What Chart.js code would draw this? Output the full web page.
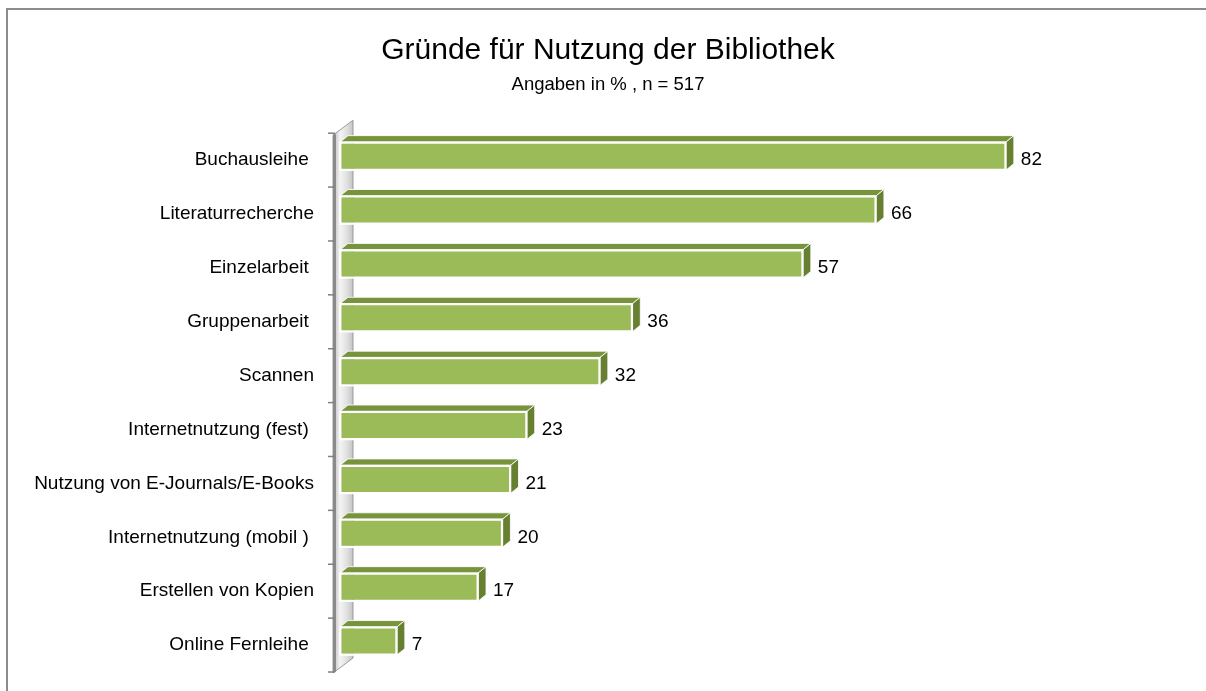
<!DOCTYPE html>
<html>
<head>
<meta charset="utf-8">
<script src="https://cdn.jsdelivr.net/npm/chart.js@4.4.1/dist/chart.umd.min.js"></script>
<style>
html,body{margin:0;padding:0;background:#fff;}
#wrap{width:1206px;height:691px;position:relative;}
</style>
</head>
<body>
<div id="wrap"><canvas id="c" width="1206" height="691"></canvas></div>
<script>
const categories = [
  'Buchausleihe ',
  'Literaturrecherche',
  'Einzelarbeit ',
  'Gruppenarbeit ',
  'Scannen',
  'Internetnutzung (fest) ',
  'Nutzung von E-Journals/E-Books',
  'Internetnutzung (mobil ) ',
  'Erstellen von Kopien',
  'Online Fernleihe '
];
const values = [82, 66, 57, 36, 32, 23, 21, 20, 17, 7];
const titleText = 'Gründe für Nutzung der Bibliothek';
const subtitleText = 'Angaben in % , n = 517';

const FONT = "'Liberation Sans', Arial, sans-serif";
const DX = 8, DY = 6.5, SHIFT = 4;

const frame = {
  id: 'frame',
  beforeDraw(chart) {
    const ctx = chart.ctx;
    ctx.save();
    ctx.strokeStyle = '#8c8c8c';
    ctx.lineWidth = 2;
    ctx.beginPath();
    ctx.moveTo(7, 700);
    ctx.lineTo(7, 9);
    ctx.lineTo(1210, 9);
    ctx.stroke();
    ctx.restore();
  }
};

const bars3d = {
  id: 'bars3d',
  beforeDatasetsDraw(chart) {
    const ctx = chart.ctx;
    const a = chart.chartArea;
    const L = a.left, T = a.top, B = a.bottom;
    ctx.save();
    const g = ctx.createLinearGradient(L - 7, 0, L + 13, 0);
    g.addColorStop(0, '#b8b8b8');
    g.addColorStop(0.35, '#f4f4f4');
    g.addColorStop(0.7, '#e0e0e0');
    g.addColorStop(1, '#c4c4c4');
    ctx.fillStyle = g;
    ctx.beginPath();
    ctx.moveTo(L - 7, T + 2);
    ctx.lineTo(L + 13, T - 13);
    ctx.lineTo(L + 13, B - 14);
    ctx.lineTo(L - 7, B + 1);
    ctx.closePath();
    ctx.fill();
    ctx.strokeStyle = '#9a9a9a';
    ctx.lineWidth = 1;
    ctx.stroke();
    ctx.strokeStyle = '#8a8a8a';
    ctx.lineWidth = 3;
    ctx.beginPath();
    ctx.moveTo(L - 5.5, T + 1);
    ctx.lineTo(L - 5.5, B);
    ctx.stroke();
    const n = categories.length;
    const band = (B - T) / n;
    ctx.strokeStyle = '#808080';
    ctx.lineWidth = 1.5;
    for (let i = 0; i <= n; i++) {
      const y = T + i * band;
      ctx.beginPath();
      ctx.moveTo(L - 12, y);
      ctx.lineTo(L - 5, y);
      ctx.stroke();
    }
    ctx.restore();
  },
  beforeDatasetDraw(chart) {
    chart.ctx.save();
    chart.ctx.translate(0, -SHIFT);
  },
  afterDatasetDraw(chart, args) {
    const ctx = chart.ctx;
    const meta = chart.getDatasetMeta(args.index);
    meta.data.forEach(el => {
      const p = el.getProps(['x', 'y', 'base', 'height'], true);
      const l = Math.min(p.base, p.x), r = Math.max(p.base, p.x);
      const t = p.y - p.height / 2, b = p.y + p.height / 2;
      ctx.fillStyle = '#77933c';
      ctx.beginPath();
      ctx.moveTo(l, t);
      ctx.lineTo(l + DX, t - DY);
      ctx.lineTo(r + DX, t - DY);
      ctx.lineTo(r, t);
      ctx.closePath();
      ctx.fill();
      ctx.strokeStyle = 'rgba(255,255,255,0.85)';
      ctx.lineWidth = 1;
      ctx.stroke();
      ctx.fillStyle = '#667f31';
      ctx.beginPath();
      ctx.moveTo(r, t);
      ctx.lineTo(r + DX, t - DY);
      ctx.lineTo(r + DX, b - DY);
      ctx.lineTo(r, b);
      ctx.closePath();
      ctx.fill();
      ctx.stroke();
      ctx.strokeStyle = '#ffffff';
      ctx.lineWidth = 1.5;
      ctx.strokeRect(l, t, r - l, b - t);
    });
    ctx.restore();
  },
  afterDatasetsDraw(chart) {
    const ctx = chart.ctx;
    const meta = chart.getDatasetMeta(0);
    ctx.save();
    ctx.font = '19px ' + FONT;
    ctx.fillStyle = '#000';
    ctx.textAlign = 'left';
    ctx.textBaseline = 'middle';
    meta.data.forEach((el, i) => {
      const p = el.getProps(['x', 'y'], true);
      ctx.fillText(String(values[i]), p.x + DX + 7, p.y);
    });
    ctx.restore();
  }
};

new Chart(document.getElementById('c'), {
  type: 'bar',
  data: {
    labels: categories,
    datasets: [{
      data: values,
      backgroundColor: '#9bbb59',
      borderColor: '#ffffff',
      borderWidth: 1.5,
      borderSkipped: false,
      barPercentage: 0.52,
      categoryPercentage: 1
    }]
  },
  options: {
    indexAxis: 'y',
    responsive: false,
    animation: false,
    devicePixelRatio: 1,
    layout: { padding: { left: 10, right: 0, top: 0, bottom: 19 } },
    plugins: {
      legend: { display: false },
      tooltip: { enabled: false },
      title: {
        display: true,
        text: titleText,
        color: '#000',
        font: { family: FONT, size: 30, weight: 'normal', lineHeight: 1.2 },
        padding: { top: 33, bottom: 5 }
      },
      subtitle: {
        display: true,
        text: subtitleText,
        color: '#000',
        font: { family: FONT, size: 18.5, weight: 'normal', lineHeight: 1.2 },
        padding: { top: 0, bottom: 37 }
      }
    },
    scales: {
      x: { display: false, min: 0, max: 100 },
      y: {
        afterFit(scale) { scale.width = 330; scale.paddingTop = 0; scale.paddingBottom = 0; },
        grid: { display: false, drawTicks: false },
        border: { display: false },
        ticks: {
          color: '#000',
          padding: 26,
          font: { family: FONT, size: 19 }
        }
      },
      yr: {
        type: 'category',
        position: 'right',
        axis: 'y',
        afterFit(scale) { scale.width = 54; scale.paddingTop = 0; scale.paddingBottom = 0; },
        grid: { display: false, drawTicks: false },
        border: { display: false },
        ticks: { display: false }
      }
    }
  },
  plugins: [frame, bars3d]
});
</script>
</body>
</html>
